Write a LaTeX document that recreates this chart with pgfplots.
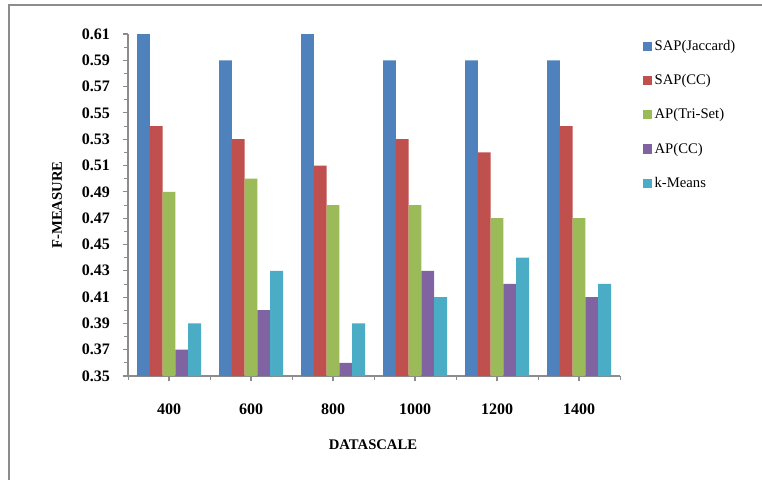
\documentclass[border=0pt]{standalone}
\usepackage{pgfplots}
\pgfplotsset{compat=1.18}
\usepackage{fontspec}
\setmainfont{Liberation Serif}
\definecolor{c1}{HTML}{4F81BD}
\definecolor{c2}{HTML}{C0504D}
\definecolor{c3}{HTML}{9BBB59}
\definecolor{c4}{HTML}{8064A2}
\definecolor{c5}{HTML}{4BACC6}
\definecolor{axgray}{HTML}{8C8C8C}
\begin{document}
\begin{tikzpicture}[x=0.75pt,y=0.75pt]
\useasboundingbox (0,0) rectangle (762,483);
\draw[axgray,line width=1.5pt] (9,3) -- (9,478) -- (762,478);
\begin{axis}[
  at={(96pt,80.25pt)}, anchor=south west,
  scale only axis, width=369pt, height=256.5pt,
  ybar=0pt, bar width=9.6pt,
  xmin=-0.5, xmax=5.5, ymin=0.35, ymax=0.61,
  axis lines=left, axis line style={-, axgray, line width=1.2pt},
  xtick={0,...,5}, xticklabels={400,600,800,1000,1200,1400},
  minor xtick={-0.5,0.5,...,5.5},
  ytick={0.35,0.37,...,0.615}, minor ytick={0.36,0.38,...,0.605},
  tick align=outside, major tick length=4pt, minor tick length=3pt,
  tick style={axgray, line width=0.8pt},
  every minor tick/.style={axgray, line width=0.6pt},
  /pgf/number format/assume math mode=true,
  /pgf/number format/.cd, fixed, fixed zerofill, precision=2, /pgfplots/.cd,
  yticklabel style={font=\fontsize{12}{14}\selectfont\bfseries, xshift=-6pt},
  xticklabel style={font=\fontsize{12}{14}\selectfont\bfseries, yshift=-13pt},
  xlabel={DATASCALE}, ylabel={F-MEASURE},
  xlabel style={font=\fontsize{11}{13}\selectfont\bfseries, at={(axis description cs:0.498,-0.202)}, anchor=center},
  ylabel style={font=\fontsize{11}{13}\selectfont\bfseries, at={(axis description cs:-0.144,0.5)}, anchor=center},
  legend style={draw=none, fill=none, at={(axis description cs:1.046,0.99)}, anchor=north west,
    font=\fontsize{11}{13}\selectfont, row sep=12.5pt, inner sep=0pt},
  legend cell align=left,
  legend image code/.code={\fill[#1] (0pt,-3.4pt) rectangle (6.8pt,3.4pt);},
  clip=false,
]
\addplot[fill=c1, draw=none] coordinates {(0,0.61) (1,0.59) (2,0.61) (3,0.59) (4,0.59) (5,0.59)};
\addplot[fill=c2, draw=none] coordinates {(0,0.54) (1,0.53) (2,0.51) (3,0.53) (4,0.52) (5,0.54)};
\addplot[fill=c3, draw=none] coordinates {(0,0.49) (1,0.50) (2,0.48) (3,0.48) (4,0.47) (5,0.47)};
\addplot[fill=c4, draw=none] coordinates {(0,0.37) (1,0.40) (2,0.36) (3,0.43) (4,0.42) (5,0.41)};
\addplot[fill=c5, draw=none] coordinates {(0,0.39) (1,0.43) (2,0.39) (3,0.41) (4,0.44) (5,0.42)};
\legend{SAP(Jaccard),SAP(CC),AP(Tri-Set),AP(CC),k-Means}
\end{axis}
\end{tikzpicture}
\end{document}
